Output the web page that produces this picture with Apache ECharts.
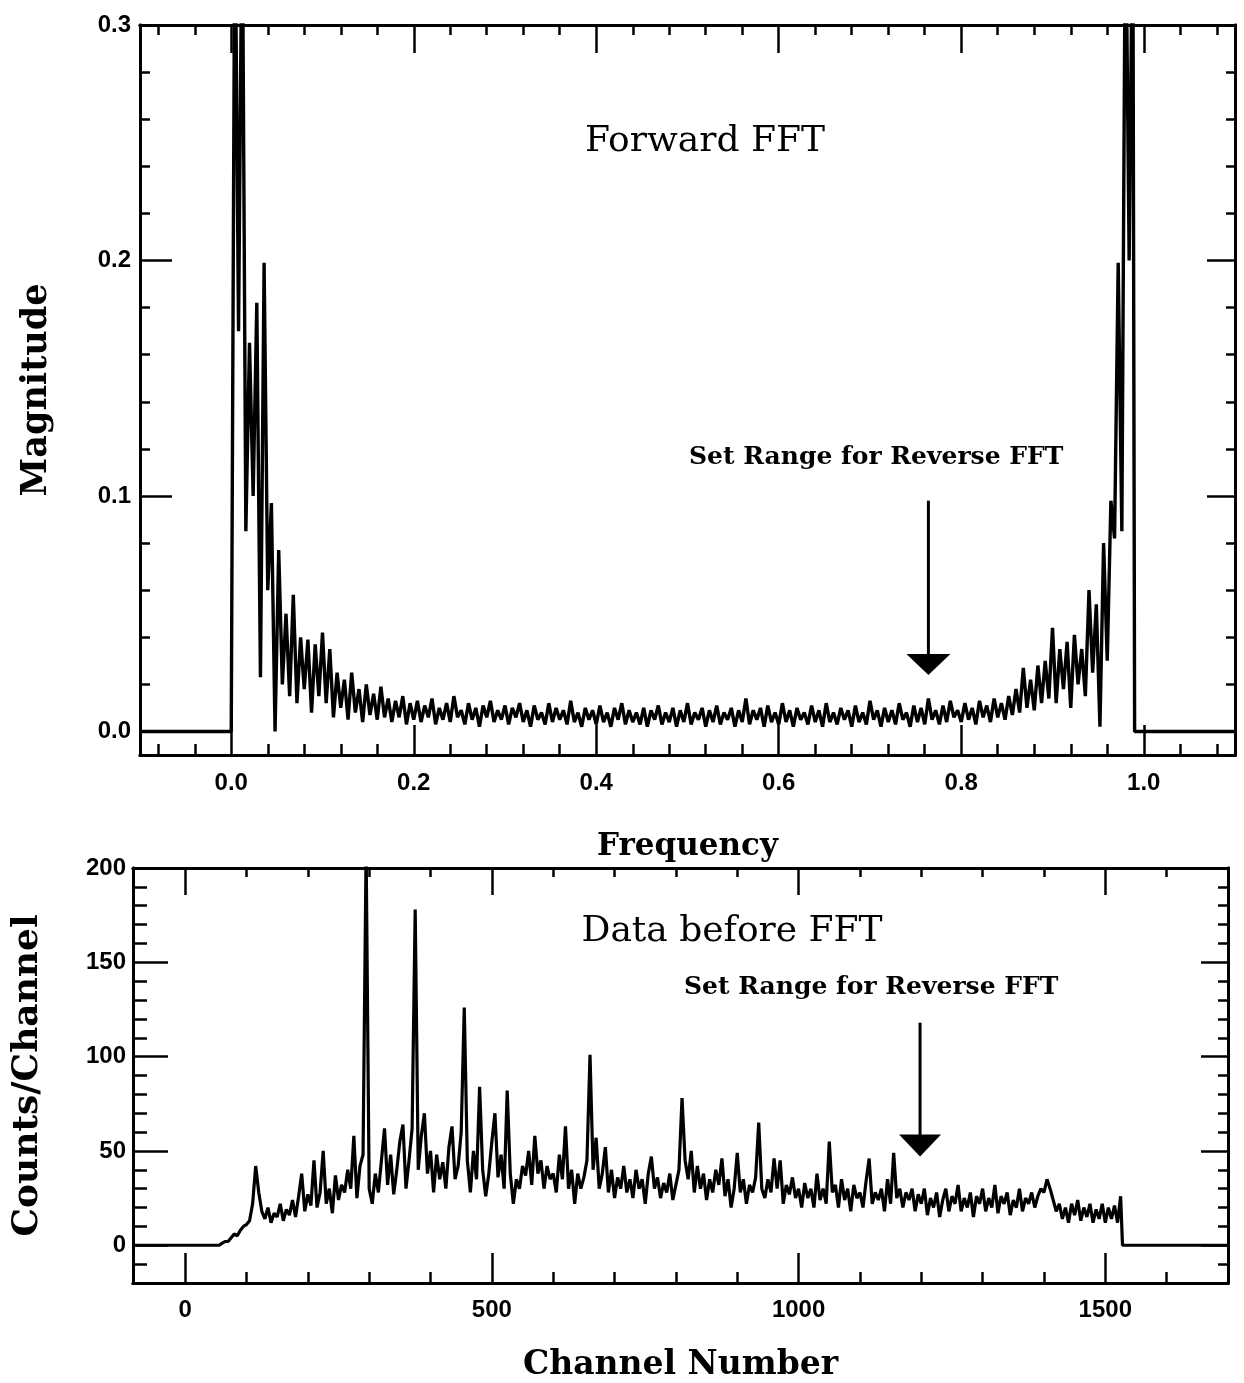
<!DOCTYPE html>
<html>
<head>
<meta charset="utf-8">
<script src="https://cdn.jsdelivr.net/npm/echarts@6/dist/echarts.min.js"></script>
<style>html,body{margin:0;padding:0;background:#fff}#c{width:1244px;height:1383px}</style>
</head>
<body>
<div id="c"></div>
<script>
// ---- Top panel: Forward FFT magnitude, sampled every 0.004 in frequency from 0.000 to 0.988 ----
const freqStart = 0.0;
const freqStep = 0.004;
const fftMag = [
  0.000, 0.36, 0.17, 0.36, 0.085, 0.165, 0.10, 0.182, 0.023, 0.199,
  0.060, 0.097, 0.000, 0.077, 0.020, 0.050, 0.015, 0.058, 0.012, 0.040,
  0.018, 0.039, 0.008, 0.037, 0.015, 0.042, 0.012, 0.035, 0.006, 0.025,
  0.010, 0.022, 0.005, 0.025, 0.008, 0.018, 0.004, 0.020, 0.007, 0.016,
  0.005, 0.019, 0.006, 0.014, 0.004, 0.013, 0.006, 0.015, 0.003, 0.012,
  0.005, 0.013, 0.004, 0.011, 0.006, 0.014, 0.003, 0.010, 0.005, 0.012,
  0.004, 0.015, 0.006, 0.009, 0.003, 0.012, 0.005, 0.010, 0.002, 0.011,
  0.006, 0.013, 0.004, 0.009, 0.005, 0.011, 0.003, 0.010, 0.006, 0.012,
  0.004, 0.009, 0.002, 0.011, 0.005, 0.008, 0.003, 0.012, 0.004, 0.010,
  0.005, 0.009, 0.003, 0.013, 0.004, 0.008, 0.002, 0.010, 0.005, 0.009,
  0.003, 0.011, 0.004, 0.008, 0.002, 0.010, 0.005, 0.012, 0.003, 0.009,
  0.004, 0.008, 0.003, 0.010, 0.002, 0.009, 0.005, 0.011, 0.003, 0.008,
  0.004, 0.010, 0.002, 0.009, 0.004, 0.012, 0.003, 0.008, 0.005, 0.010,
  0.002, 0.009, 0.004, 0.011, 0.003, 0.008, 0.005, 0.010, 0.002, 0.009,
  0.004, 0.014, 0.003, 0.009, 0.005, 0.010, 0.002, 0.011, 0.004, 0.008,
  0.003, 0.012, 0.004, 0.009, 0.002, 0.010, 0.005, 0.008, 0.003, 0.011,
  0.004, 0.009, 0.002, 0.012, 0.004, 0.008, 0.003, 0.010, 0.005, 0.009,
  0.002, 0.011, 0.004, 0.008, 0.003, 0.013, 0.005, 0.009, 0.002, 0.010,
  0.004, 0.009, 0.003, 0.012, 0.005, 0.008, 0.002, 0.011, 0.004, 0.010,
  0.003, 0.014, 0.005, 0.009, 0.003, 0.011, 0.004, 0.013, 0.006, 0.009,
  0.004, 0.012, 0.005, 0.010, 0.003, 0.013, 0.006, 0.011, 0.004, 0.014,
  0.006, 0.012, 0.005, 0.015, 0.007, 0.018, 0.008, 0.027, 0.010, 0.022,
  0.009, 0.028, 0.012, 0.030, 0.014, 0.044, 0.012, 0.035, 0.018, 0.038,
  0.010, 0.041, 0.020, 0.035, 0.015, 0.060, 0.025, 0.054, 0.002, 0.080,
  0.030, 0.098, 0.082, 0.199, 0.085, 0.36, 0.20, 0.36
];
const fftLeftEdge = [-0.1, 0.0];   // flat zero level before the spectrum
const fftRightEdge = [0.990, 0.0]; // drop back to zero after the spectrum
const fftRightEnd = [1.1, 0.0];

// ---- Bottom panel: data before FFT, counts per channel every 5 channels from 55 to 1525 ----
const chanStart = 55;
const chanStep = 5;
const counts = [
  0, 1, 2, 2, 4, 6, 5, 8, 10, 11,
  13, 22, 42, 28, 18, 14, 20, 12, 17, 15,
  22, 13, 19, 16, 24, 15, 26, 38, 18, 27,
  21, 45, 20, 28, 50, 22, 30, 17, 37, 24,
  32, 28, 40, 30, 58, 25, 42, 48, 210, 30,
  22, 38, 28, 45, 62, 32, 48, 27, 40, 55,
  64, 30, 45, 62, 178, 40, 58, 70, 38, 50,
  28, 48, 35, 44, 30, 52, 63, 35, 42, 60,
  126, 45, 28, 50, 35, 84, 40, 26, 38, 55,
  70, 36, 48, 30, 82, 38, 22, 35, 30, 42,
  37, 50, 32, 58, 38, 45, 30, 42, 35, 38,
  28, 48, 35, 63, 30, 40, 22, 38, 30, 36,
  45, 101, 40, 57, 30, 38, 52, 28, 40, 25,
  36, 30, 42, 28, 35, 25, 40, 30, 35, 22,
  38, 47, 30, 36, 25, 33, 28, 38, 24, 32,
  40, 78, 45, 35, 50, 28, 42, 30, 38, 24,
  35, 28, 40, 32, 46, 26, 35, 20, 30, 49,
  28, 35, 22, 32, 28, 36, 65, 30, 25, 35,
  28, 46, 30, 45, 22, 32, 27, 36, 25, 30,
  20, 33, 25, 30, 20, 38, 24, 30, 22, 55,
  28, 32, 20, 35, 24, 30, 18, 32, 25, 28,
  20, 34, 46, 22, 28, 24, 30, 18, 35, 22,
  49, 25, 30, 20, 28, 24, 30, 18, 27, 22,
  30, 16, 25, 20, 28, 15, 24, 30, 18, 26,
  22, 32, 18, 25, 20, 28, 15, 26, 22, 30,
  18, 25, 20, 32, 17, 26, 22, 28, 16, 24,
  20, 30, 18, 25, 22, 28, 20, 26, 30, 28,
  35, 30, 24, 18, 22, 14, 20, 12, 22, 16,
  24, 13, 20, 15, 22, 12, 19, 14, 22, 12,
  20, 14, 21, 12, 26
];
const countLeftEdge = [-85, 0];
const countRightEdge = [1528, 0];
const countRightEnd = [1700, 0];

// ---- Tick labels ----
const freqTicks = [0.0, 0.2, 0.4, 0.6, 0.8, 1.0];
const magTicks = [0.0, 0.1, 0.2, 0.3];
const chanTicks = [0, 500, 1000, 1500];
const countTicks = [0, 50, 100, 150, 200];

// ---- Annotations (data coordinates) ----
const topArrow = { x: 0.764, from: 0.098, tip: 0.024 };
const bottomArrow = { x: 1198, from: 118, tip: 47 };

function minorList(lo, hi, step, majors) {
  const out = [];
  const n = Math.round((hi - lo) / step);
  for (let i = 0; i <= n; i++) {
    const v = +(lo + i * step).toFixed(6);
    if (!majors.some(m => Math.abs(m - v) < 1e-9)) out.push(v);
  }
  return out;
}
const freqMinor = minorList(-0.08, 1.08, 0.04, freqTicks);
const magMinor = minorList(0.0, 0.3, 0.02, magTicks);
const chanMinor = minorList(0, 1700, 100, chanTicks);
const countMinor = minorList(-10, 200, 10, countTicks);

const topData = [fftLeftEdge]
  .concat(fftMag.map((v, i) => [+(freqStart + i * freqStep).toFixed(4), v]))
  .concat([fftRightEdge, fftRightEnd]);
const bottomData = [countLeftEdge]
  .concat(counts.map((v, i) => [chanStart + i * chanStep, v]))
  .concat([countRightEdge, countRightEnd]);

const labelFont = { color: '#000', fontFamily: 'Liberation Sans', fontWeight: 'bold', fontSize: 24 };
function nameFont(size) { return { color: '#000', fontFamily: 'DejaVu Serif', fontWeight: 'bold', fontSize: size }; }

function ax(o) {
  return {
    type: 'value', gridIndex: o.grid, position: o.pos, min: o.min, max: o.max,
    axisLine: { show: true, onZero: false, lineStyle: { color: '#000', width: 3 } },
    axisTick: { show: true, inside: true, length: o.len, customValues: o.ticks,
                lineStyle: { color: '#000', width: 2.5 } },
    axisLabel: o.fmt ? Object.assign({ show: true, customValues: o.ticks, formatter: o.fmt, margin: o.margin }, labelFont)
                     : { show: false },
    splitLine: { show: false },
    minorTick: { show: false },
    name: o.name || '', nameLocation: 'middle', nameGap: o.nameGap || 0,
    nameTextStyle: nameFont(o.nameSize || 30)
  };
}
const f1 = v => Number(v).toFixed(1);
const f0 = v => String(Math.round(v));

const xAxes = [
  ax({ grid: 0, pos: 'bottom', min: -0.1, max: 1.1, ticks: freqTicks, len: 30, fmt: f1, margin: 16, name: 'Frequency', nameGap: 76, nameSize: 31 }),
  ax({ grid: 0, pos: 'bottom', min: -0.1, max: 1.1, ticks: freqMinor, len: 11 }),
  ax({ grid: 0, pos: 'top', min: -0.1, max: 1.1, ticks: freqTicks, len: 28 }),
  ax({ grid: 0, pos: 'top', min: -0.1, max: 1.1, ticks: freqMinor, len: 10 }),
  ax({ grid: 1, pos: 'bottom', min: -85, max: 1700, ticks: chanTicks, len: 30, fmt: f0, margin: 15, name: 'Channel Number', nameGap: 66, nameSize: 33 }),
  ax({ grid: 1, pos: 'bottom', min: -85, max: 1700, ticks: chanMinor, len: 11 }),
  ax({ grid: 1, pos: 'top', min: -85, max: 1700, ticks: chanTicks, len: 27 }),
  ax({ grid: 1, pos: 'top', min: -85, max: 1700, ticks: chanMinor, len: 9 })
];
const yAxes = [
  ax({ grid: 0, pos: 'left', min: -0.01, max: 0.3, ticks: magTicks, len: 32, fmt: f1, margin: 9, name: 'Magnitude', nameGap: 86, nameSize: 35 }),
  ax({ grid: 0, pos: 'left', min: -0.01, max: 0.3, ticks: magMinor, len: 10 }),
  ax({ grid: 0, pos: 'right', min: -0.01, max: 0.3, ticks: magTicks, len: 28 }),
  ax({ grid: 0, pos: 'right', min: -0.01, max: 0.3, ticks: magMinor, len: 9 }),
  ax({ grid: 1, pos: 'left', min: -20, max: 200, ticks: countTicks, len: 35, fmt: f0, margin: 7, name: 'Counts/Channel', nameGap: 87, nameSize: 36 }),
  ax({ grid: 1, pos: 'left', min: -20, max: 200, ticks: countMinor, len: 14 }),
  ax({ grid: 1, pos: 'right', min: -20, max: 200, ticks: countTicks, len: 27 }),
  ax({ grid: 1, pos: 'right', min: -20, max: 200, ticks: countMinor, len: 10 })
];

const chart = echarts.init(document.getElementById('c'), null, { renderer: 'canvas' });
const option = {
  animation: false,
  backgroundColor: '#ffffff',
  grid: [
    { left: 140, top: 25, width: 1095, height: 730 },
    { left: 133, top: 868, width: 1095, height: 415 }
  ],
  xAxis: xAxes,
  yAxis: yAxes,
  series: [
    { type: 'line', xAxisIndex: 0, yAxisIndex: 0, data: topData, showSymbol: false, symbol: 'none',
      clip: true, lineStyle: { color: '#000', width: 3.4 }, silent: true },
    { type: 'line', xAxisIndex: 4, yAxisIndex: 4, data: bottomData, showSymbol: false, symbol: 'none',
      clip: true, lineStyle: { color: '#000', width: 3.2 }, silent: true }
  ]
};
chart.setOption(option);

function arrowGraphics(gridIndex, a, headW, headH) {
  const p0 = chart.convertToPixel({ gridIndex: gridIndex }, [a.x, a.from]);
  const pt = chart.convertToPixel({ gridIndex: gridIndex }, [a.x, a.tip]);
  return [
    { type: 'line', shape: { x1: p0[0], y1: p0[1], x2: pt[0], y2: pt[1] - headH + 2 },
      style: { stroke: '#000', lineWidth: 3 } },
    { type: 'polygon', shape: { points: [[pt[0] - headW / 2, pt[1] - headH], [pt[0] + headW / 2, pt[1] - headH], [pt[0], pt[1]]] },
      style: { fill: '#000' } }
  ];
}

const titleFont = '36px "DejaVu Serif"';
const noteFont = 'bold 25px "DejaVu Serif"';
chart.setOption({
  graphic: [
    { type: 'text', x: 705, y: 142, style: { text: 'Forward FFT', font: titleFont, fill: '#000', align: 'center', verticalAlign: 'middle' } },
    { type: 'text', x: 689, y: 457, style: { text: 'Set Range for Reverse FFT', font: noteFont, fill: '#000', align: 'left', verticalAlign: 'middle' } },
    { type: 'text', x: 732, y: 932, style: { text: 'Data before FFT', font: titleFont, fill: '#000', align: 'center', verticalAlign: 'middle' } },
    { type: 'text', x: 684, y: 987, style: { text: 'Set Range for Reverse FFT', font: noteFont, fill: '#000', align: 'left', verticalAlign: 'middle' } }
  ].concat(arrowGraphics(0, topArrow, 44, 21)).concat(arrowGraphics(1, bottomArrow, 42, 22))
});
</script>
</body>
</html>
